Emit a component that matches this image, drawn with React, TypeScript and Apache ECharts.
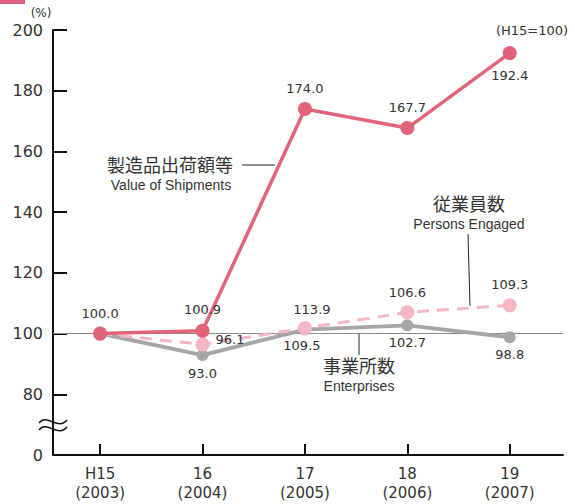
import React, { useEffect, useRef } from "react";
import * as echarts from "echarts";

const categoriesTop = ["H15", "16", "17", "18", "19"];
const categoriesBottom = ["(2003)", "(2004)", "(2005)", "(2006)", "(2007)"];
const yTickLabels: Record<number, string> = { 60: "0", 80: "80", 100: "100", 120: "120", 140: "140", 160: "160", 180: "180", 200: "200" };

const shipments = [100.0, 100.9, 174.0, 167.7, 192.4];
const shipmentsLabels = ["100.0", "100.9", "174.0", "167.7", "192.4"];
const persons = [100.0, 96.4, 101.8, 107.0, 109.3];
const personsLabels = ["", "96.1", "113.9", "106.6", "109.3"];
const enterprises = [100.0, 92.9, 101.3, 102.7, 98.8];
const enterprisesLabels = ["", "93.0", "109.5", "102.7", "98.8"];

const RED = "#e0647a";
const PINK = "#f4b6c2";
const GRAY = "#a6a6a6";
const TXT = "#333";
const NUM_FONT = "DejaVu Sans";
const JP_FONT = "Noto Sans CJK JP";

const shipLabelPos = [
  { position: "top", distance: 7 },
  { position: "top", distance: 8 },
  { position: "top", distance: 7 },
  { position: "top", distance: 7 },
  { position: "bottom", distance: 9 },
];
const personLabelPos = [
  { position: "top", distance: 6 },
  { position: "right", distance: 6, offset: [0, -5] },
  { position: "top", distance: 5, offset: [7, 0] },
  { position: "top", distance: 6 },
  { position: "top", distance: 7 },
];
const entLabelPos = [
  { position: "bottom", distance: 6 },
  { position: "bottom", distance: 6 },
  { position: "bottom", distance: 3, offset: [-3, 0] },
  { position: "bottom", distance: 5 },
  { position: "bottom", distance: 5 },
];

function buildData(values: number[], labels: string[], pos: any[]) {
  return values.map((v, i) => ({
    value: [i, v],
    label: {
      show: labels[i] !== "",
      formatter: labels[i],
      ...pos[i],
    },
  }));
}

export default function App() {
  const ref = useRef<HTMLDivElement>(null);
  useEffect(() => {
    if (!ref.current) return;
    const chart = echarts.init(ref.current, null, { renderer: "svg" });
    const labelStyle = { color: TXT, fontSize: 13, fontFamily: NUM_FONT };
    const jp = (x: number, y: number, text: string) => ({
      type: "text", x, y,
      style: { text, fill: TXT, fontSize: 18, lineHeight: 18, fontFamily: JP_FONT, align: "center", verticalAlign: "middle" },
    });
    const en = (x: number, y: number, text: string) => ({
      type: "text", x, y,
      style: { text, fill: TXT, fontSize: 14, lineHeight: 14, fontFamily: "Liberation Sans", align: "center", verticalAlign: "middle" },
    });
    chart.setOption({
      animation: false,
      backgroundColor: "#fff",
      grid: { left: 53, right: 12, top: 30, bottom: 49, containLabel: false },
      xAxis: {
        type: "value",
        min: -0.46,
        max: 4.52,
        splitLine: { show: false },
        axisLine: { show: true, onZero: false, lineStyle: { color: "#111", width: 2 } },
        axisTick: {
          show: true,
          inside: true,
          length: 11,
          customValues: [0, 1, 2, 3, 4],
          lineStyle: { color: "#111", width: 2 },
        },
        axisLabel: {
          customValues: [0, 1, 2, 3, 4],
          formatter: (v: number) => {
            const i = Math.round(v);
            return categoriesTop[i] + "\n" + categoriesBottom[i];
          },
          color: TXT,
          fontSize: 15,
          fontFamily: NUM_FONT,
          lineHeight: 19,
          margin: 9,
        },
      },
      yAxis: {
        type: "value",
        min: 60,
        max: 200,
        interval: 20,
        splitLine: { show: false },
        axisLine: { show: true, onZero: false, lineStyle: { color: "#111", width: 2 } },
        axisTick: { show: true, inside: true, length: 14, lineStyle: { color: "#111", width: 2 } },
        axisLabel: {
          formatter: (v: number) => yTickLabels[v] ?? "",
          color: TXT,
          fontSize: 16,
          fontFamily: NUM_FONT,
          margin: 10,
        },
      },
      series: [
        {
          type: "line",
          name: "Enterprises",
          data: buildData(enterprises, enterprisesLabels, entLabelPos),
          symbol: "circle",
          symbolSize: 12,
          lineStyle: { color: GRAY, width: 4 },
          itemStyle: { color: GRAY },
          label: labelStyle,
          z: 2,
          markLine: {
            silent: true,
            symbol: "none",
            label: { show: false },
            lineStyle: { color: "#888", width: 1, type: "solid" },
            data: [{ yAxis: 100 }],
            z: 1,
          },
        },
        {
          type: "line",
          name: "Persons Engaged",
          data: buildData(persons, personsLabels, personLabelPos),
          symbol: "circle",
          symbolSize: 14,
          lineStyle: { color: PINK, width: 3, type: [12, 8] },
          itemStyle: { color: PINK },
          label: labelStyle,
          z: 3,
        },
        {
          type: "line",
          name: "Value of Shipments",
          data: buildData(shipments, shipmentsLabels, shipLabelPos),
          symbol: "circle",
          symbolSize: 14,
          lineStyle: { color: RED, width: 3.5 },
          itemStyle: { color: RED },
          label: labelStyle,
          z: 4,
        },
      ],
      graphic: [
        { type: "rect", shape: { x: 0, y: 0, width: 25, height: 4 }, style: { fill: "#e06080" } },
        { type: "text", x: 41, y: 13, style: { text: "(%)", fill: TXT, fontSize: 12, fontFamily: NUM_FONT, align: "center", verticalAlign: "middle" } },
        { type: "text", x: 532, y: 30, style: { text: "(H15=100)", fill: TXT, fontSize: 13, fontFamily: NUM_FONT, align: "center", verticalAlign: "middle" } },
        { type: "bezierCurve", shape: { x1: 39, y1: 423, cpx1: 47, cpy1: 413, cpx2: 58, cpy2: 431, x2: 67, y2: 420 }, style: { stroke: "#111", lineWidth: 1.5, fill: null }, z: 10 },
        { type: "bezierCurve", shape: { x1: 39, y1: 430, cpx1: 47, cpy1: 420, cpx2: 58, cpy2: 438, x2: 67, y2: 427 }, style: { stroke: "#111", lineWidth: 1.5, fill: null }, z: 10 },
        jp(170, 164, "製造品出荷額等"),
        en(171, 185, "Value of Shipments"),
        { type: "line", shape: { x1: 242, y1: 165, x2: 275, y2: 165 }, style: { stroke: "#222", lineWidth: 1 } },
        jp(469, 203, "従業員数"),
        en(469, 224, "Persons Engaged"),
        { type: "line", shape: { x1: 468, y1: 234, x2: 470, y2: 306 }, style: { stroke: "#222", lineWidth: 1 } },
        jp(359, 365, "事業所数"),
        en(359, 386, "Enterprises"),
        { type: "line", shape: { x1: 359, y1: 333, x2: 359, y2: 355 }, style: { stroke: "#222", lineWidth: 1 } },
      ],
    });
    return () => chart.dispose();
  }, []);
  return <div ref={ref} style={{ width: 575, height: 504, position: "absolute", left: 0, top: 0 }} />;
}
